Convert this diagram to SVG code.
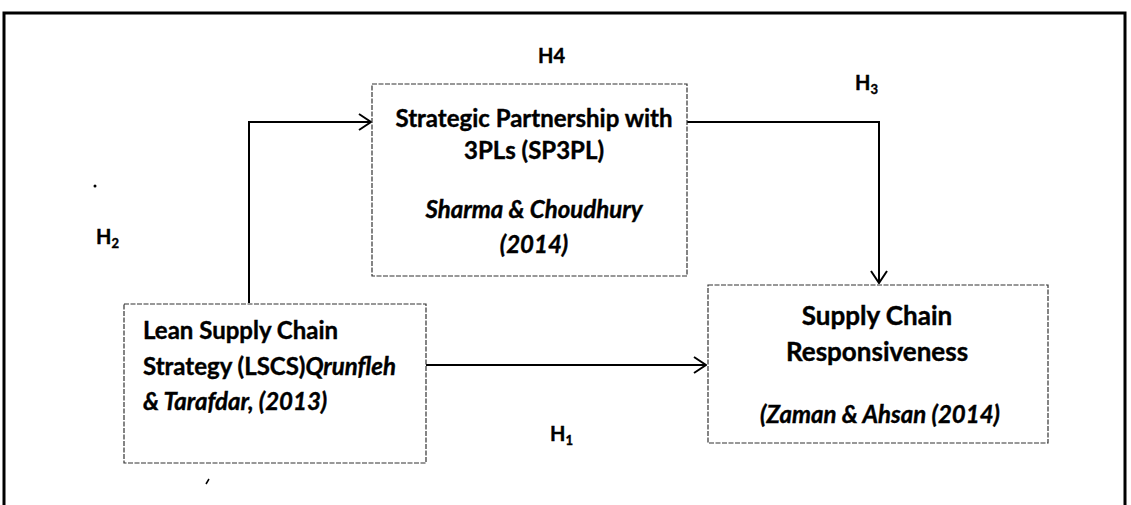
<svg xmlns="http://www.w3.org/2000/svg" width="1131" height="505" viewBox="0 0 1131 505">
<style>
.box{fill:none;stroke:#333;stroke-width:1.2;stroke-dasharray:5 1.5}
.conn{fill:none;stroke:#000;stroke-width:2}
.t{font-family:Lato,"Liberation Sans",sans-serif;font-weight:bold;fill:#000;stroke:#000;stroke-width:0.4}
.it{font-style:italic}
.lab{font-family:Lato,"Liberation Sans",sans-serif;font-weight:bold;font-size:20px;fill:#000;stroke:#000;stroke-width:0.4}
</style>
<defs>
<marker id="arr" viewBox="0 0 14 18" refX="13" refY="9" markerWidth="14" markerHeight="18" markerUnits="userSpaceOnUse" orient="auto">
<path d="M1,1 L13,9 L1,17" fill="none" stroke="#000" stroke-width="2"/>
</marker>
</defs>
<rect width="1131" height="505" fill="#fff"/>
<path d="M4,505 V13 H1125 V505" fill="none" stroke="#000" stroke-width="3"/>
<g id="connectors">
<path class="conn" d="M249,303 V122 H371" marker-end="url(#arr)"/>
<path class="conn" d="M687,122 H879 V283" marker-end="url(#arr)"/>
<path class="conn" d="M426,365 H706" marker-end="url(#arr)"/>
</g>
<g id="labels">
<text class="lab" x="538" y="63">H4</text>
<text class="lab" x="855" y="90">H<tspan font-size="13" dy="4">3</tspan></text>
<text class="lab" x="96" y="244">H<tspan font-size="13" dy="4">2</tspan></text>
<text class="lab" x="550" y="441">H<tspan font-size="13" dy="4">1</tspan></text>
</g>
<g id="sp3pl">
<rect class="box" x="372" y="84" width="315" height="192"/>
<text class="t" font-size="24" text-anchor="middle" x="534" y="127">Strategic Partnership with</text>
<text class="t" font-size="24" text-anchor="middle" x="534" y="159">3PLs (SP3PL)</text>
<text class="t it" font-size="24" text-anchor="middle" x="534" y="218">Sharma &amp; Choudhury</text>
<text class="t it" font-size="24" text-anchor="middle" x="534" y="253">(2014)</text>
</g>
<g id="lscs">
<rect class="box" x="124" y="304" width="302" height="159"/>
<text class="t" font-size="24" x="143" y="339">Lean Supply Chain</text>
<text class="t" font-size="24" x="143" y="375">Strategy (LSCS)<tspan class="it">Qrunfleh</tspan></text>
<text class="t it" font-size="24" x="143" y="410">&amp; Tarafdar, (2013)</text>
</g>
<g id="scr">
<rect class="box" x="708" y="285" width="340" height="158"/>
<text class="t" font-size="26" text-anchor="middle" x="877" y="325">Supply Chain</text>
<text class="t" font-size="26" text-anchor="middle" x="877" y="361">Responsiveness</text>
<text class="t it" font-size="24" text-anchor="middle" x="880" y="423">(Zaman &amp; Ahsan (2014)</text>
</g>
<g id="specks">
<circle cx="95" cy="186" r="1.5" fill="#000"/>
<path d="M206,484 L209,479" stroke="#000" stroke-width="1.5"/>
</g>
</svg>
